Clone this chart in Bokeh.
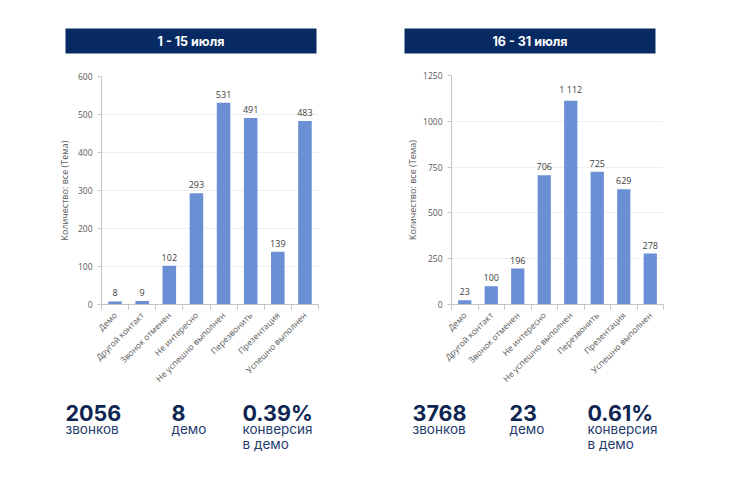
from math import pi
from bokeh.plotting import figure
from bokeh.layouts import row, column
from bokeh.models import Range1d, FixedTicker, CustomJSTickFormatter
from bokeh.core.properties import value
from bokeh.embed import file_html
from bokeh.resources import INLINE

# ---------------- data ----------------
categories = ["Демо", "Другой контакт", "Звонок отменен", "Не интересно",
              "Не успешно выполнен", "Перезвонить", "Презентация", "Успешно выполнен"]
values_1_15 = [8, 9, 102, 293, 531, 491, 139, 483]
values_16_31 = [23, 100, 196, 706, 1112, 725, 629, 278]
titles = ["1 - 15 июля", "16 - 31 июля"]
y_ticks_1 = [0, 100, 200, 300, 400, 500, 600]
y_ticks_2 = [0, 250, 500, 750, 1000, 1250]
y_axis_label = "Количество: все (Тема)"
stats_1 = ["2056", "8", "0.39%"]
stats_2 = ["3768", "23", "0.61%"]
stat_labels = [["звонков"], ["демо"], ["конверсия", "в демо"]]

# ---------------- style ----------------
NAVY = "#072a63"
BAR = "#6a8fd4"
NUM_COLOR = "#0e2552"
LBL_COLOR = "#1f3b6d"
GREY = "#595959"
AXIS = "#c4c4c4"
GRID = "#eeeeee"
CHART_FONT = "Open Sans"
STAT_FONT = "Inter"
HALF_W = 367


def blank(height):
    p = figure(width=HALF_W, height=height, x_range=Range1d(0, HALF_W),
               y_range=Range1d(height, 0), toolbar_location=None,
               output_backend="svg", min_border=0, x_axis_type=None,
               y_axis_type=None, outline_line_color=None, frame_align=False)
    p.grid.visible = False
    return p


def header(title, x0):
    p = blank(60)
    p.quad(left=[x0], right=[x0 + 251], top=[28], bottom=[53], color=NAVY, line_color=None)
    p.text(x=[x0 + 125.5], y=[41], text=[title], text_align="center",
           text_baseline="middle", text_color="white", text_font_size="12.5px",
           text_font_style="bold", text_font=value(STAT_FONT))
    return p


def chart(vals, yticks, borders, label_standoff):
    n = len(categories)
    xs = [i + 0.5 for i in range(n)]
    left, right, top, bottom = borders
    p = figure(width=HALF_W, height=330, x_range=Range1d(0, n),
               y_range=Range1d(0, yticks[-1]), toolbar_location=None,
               output_backend="svg", min_border_left=left, min_border_right=right,
               min_border_top=top, min_border_bottom=bottom,
               outline_line_color=None, frame_align=False)
    p.vbar(x=xs, top=vals, width=0.5, color=BAR, line_color=None)
    labels = [f"{v:,}".replace(",", " ") for v in vals]
    p.text(x=xs, y=vals, text=labels, text_align="center", text_baseline="bottom",
           y_offset=-5, text_font_size="9px", text_color="#404040",
           text_font=value(CHART_FONT))

    xa = p.xaxis[0]
    xa.ticker = FixedTicker(ticks=xs, minor_ticks=list(range(n + 1)))
    xa.formatter = CustomJSTickFormatter(args=dict(labels=categories),
                                         code="return labels[Math.floor(tick)] || '';")
    xa.major_label_orientation = pi / 4
    xa.major_tick_out = 0
    xa.major_tick_in = 0
    xa.minor_tick_out = 5
    xa.minor_tick_in = 0
    xa.minor_tick_line_color = AXIS
    xa.axis_line_color = AXIS
    xa.major_label_text_font_size = "8.5px"
    xa.major_label_text_color = GREY
    xa.major_label_text_font = CHART_FONT
    xa.major_label_standoff = 4

    ya = p.yaxis[0]
    ya.ticker = FixedTicker(ticks=yticks)
    ya.major_tick_out = 4
    ya.major_tick_in = 0
    ya.minor_tick_out = 0
    ya.minor_tick_in = 0
    ya.major_tick_line_color = AXIS
    ya.axis_line_color = AXIS
    ya.major_label_text_font_size = "8.5px"
    ya.major_label_text_color = GREY
    ya.major_label_text_font = CHART_FONT
    ya.axis_label = y_axis_label
    ya.axis_label_text_font_size = "9px"
    ya.axis_label_text_color = GREY
    ya.axis_label_text_font_style = "normal"
    ya.axis_label_text_font = CHART_FONT
    ya.axis_label_standoff = label_standoff

    p.xgrid.visible = False
    p.ygrid.grid_line_color = GRID
    return p


def stats(nums, xs_):
    p = blank(70)
    p.text(x=xs_, y=[22] * len(nums), text=nums, text_align="left",
           text_baseline="alphabetic", text_color=NUM_COLOR, text_font_size="21.5px",
           text_font_style="bold", text_font=value(STAT_FONT))
    for x, lines in zip(xs_, stat_labels):
        p.text(x=[x] * len(lines), y=[38 + 15 * i for i in range(len(lines))],
               text=lines, text_align="left", text_baseline="alphabetic",
               text_color=LBL_COLOR, text_font_size="13.5px",
               text_font=value(STAT_FONT))
    return p


left_col = column(header(titles[0], 65),
                  chart(values_1_15, y_ticks_1, (101, 49, 16, 86), 4),
                  stats(stats_1, [65, 171, 242]))
right_col = column(header(titles[1], 37),
                   chart(values_16_31, y_ticks_2, (84, 71, 15, 86), 1),
                   stats(stats_2, [45, 142, 220]))
layout = row(left_col, right_col)

open("out.html", "w").write(file_html(layout, INLINE))
